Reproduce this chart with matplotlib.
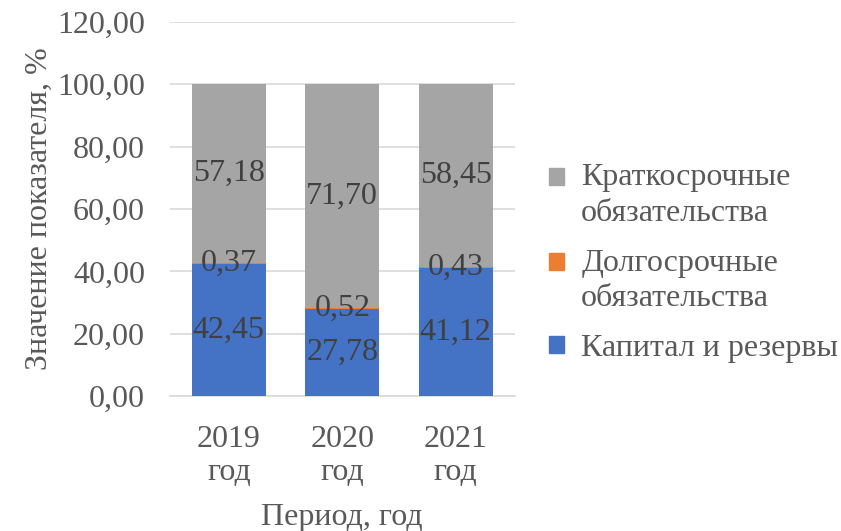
import matplotlib.pyplot as plt
import matplotlib.patches as mpatches
from matplotlib.legend_handler import HandlerPatch
import numpy as np

plt.rcParams['font.family'] = ['Liberation Serif', 'DejaVu Serif']

# data
years = ['2019\nгод', '2020\nгод', '2021\nгод']
capital = [42.45, 27.78, 41.12]
long_term = [0.37, 0.52, 0.43]
short_term = [57.18, 71.70, 58.45]
series_names = ['Капитал и резервы', 'Долгосрочные\nобязательства', 'Краткосрочные\nобязательства']
yticks = [0, 20, 40, 60, 80, 100, 120]

c_blue = '#4472c4'
c_orange = '#ed7d31'
c_gray = '#a5a5a5'
txt = '#595959'
lbl = '#404040'
fs = 23

fig = plt.figure(figsize=(8.41, 5.31), dpi=100)
ax = fig.add_axes([0.202, 0.254, 0.41, 0.705])

x = np.arange(len(years))
w = 0.65
b1 = ax.bar(x, capital, w, color=c_blue, zorder=3)
bottom2 = np.array(capital)
b2 = ax.bar(x, long_term, w, bottom=bottom2, color=c_orange, zorder=3)
bottom3 = bottom2 + np.array(long_term)
b3 = ax.bar(x, short_term, w, bottom=bottom3, color=c_gray, zorder=3)

def fmt(v):
    return ('%.2f' % v).replace('.', ',')

for bars, vals, bots in [(b1, capital, np.zeros(3)), (b2, long_term, bottom2), (b3, short_term, bottom3)]:
    for rect, v, bo in zip(bars, vals, bots):
        ax.text(rect.get_x() + rect.get_width() / 2, bo + v / 2, fmt(v),
                ha='center', va='center', fontsize=fs, color=lbl, zorder=4)

ax.set_ylim(0, 120)
ax.set_xlim(-0.52, 2.52)
ax.set_yticks(yticks)
ax.set_yticklabels([fmt(v) for v in yticks])
ax.set_xticks(x)
ax.set_xticklabels(years, linespacing=1.15)
ax.tick_params(axis='both', length=0, labelsize=fs, labelcolor=txt)
ax.tick_params(axis='y', pad=18)
ax.tick_params(axis='x', pad=21)
ax.grid(axis='y', color='#d9d9d9', linewidth=1.2, zorder=0)
for s in ['top', 'right', 'left']:
    ax.spines[s].set_visible(False)
ax.spines['bottom'].set_color('#d9d9d9')
ax.spines['bottom'].set_linewidth(1.2)

ax.set_ylabel('Значение показателя, %', fontsize=fs, color=txt, labelpad=2)
ax.set_xlabel('Период, год', fontsize=fs, color=txt, labelpad=12)

# legend squares sit on the first line of two-line entries
def top_square(shift):
    def f(legend, orig_handle, xdescent, ydescent, width, height, fontsize):
        return mpatches.Rectangle((-xdescent, -ydescent + shift), width, height)
    return f

p_short = mpatches.Patch(color=c_gray)
p_long = mpatches.Patch(color=c_orange)
p_cap = mpatches.Patch(color=c_blue)
shift = 13.5
hmap = {p_short: HandlerPatch(patch_func=top_square(shift)),
        p_long: HandlerPatch(patch_func=top_square(shift)),
        p_cap: HandlerPatch(patch_func=top_square(0))}
leg = ax.legend([p_short, p_long, p_cap], series_names[::-1], loc='center left',
                bbox_to_anchor=(1.017, 0.355), frameon=False, fontsize=fs,
                labelcolor=txt, handlelength=0.45, handleheight=0.45,
                handletextpad=0.55, labelspacing=0.65, handler_map=hmap)
for t in leg.get_texts():
    t.set_linespacing(1.3)

fig.savefig('out.png', dpi=100)
